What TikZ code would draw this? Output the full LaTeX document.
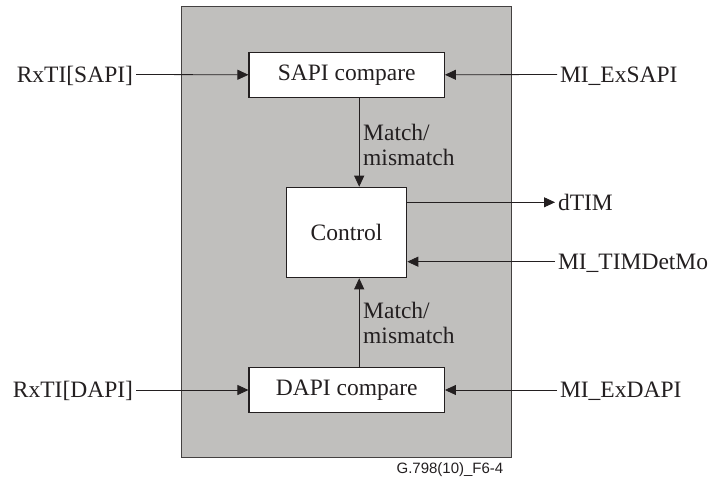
\documentclass[tikz,border=0pt]{standalone}
\usepackage{fontspec}
\setmainfont{Liberation Serif}
\newfontfamily\arialfont{Liberation Sans}
\usetikzlibrary{arrows.meta}
\definecolor{panelgray}{RGB}{192,191,189}
\definecolor{ink}{RGB}{35,31,32}
\begin{document}
\begin{tikzpicture}[x=1pt,y=-1pt,
  every node/.style={text=ink},
  blk/.style={draw=ink,line width=1.2pt,fill=white,inner sep=0pt,font=\fontsize{23.5}{26}\selectfont},
  lbl/.style={inner sep=0pt,outer sep=3pt,text height=15.5pt,text depth=0pt,font=\fontsize{23.5}{26}\selectfont},
  small/.style={inner sep=0pt,font=\fontsize{23.5}{27}\selectfont,align=left},
  conn/.style={draw=ink,line width=0.8pt},
  arr/.style={conn,-{Triangle[length=11pt,width=10pt]}}]
\useasboundingbox (0,0) rectangle (709,481);
\draw[fill=panelgray,draw=ink!85,line width=1.3pt] (181.7,6.7) rectangle (511.3,457.7);
\node[blk,minimum width=195.3pt,minimum height=45pt] (sapi) at (346.7,74.8) {SAPI compare};
\node[blk,minimum width=120.4pt,minimum height=90.4pt] (ctrl) at (346.5,232.5) {Control};
\node[blk,minimum width=195.3pt,minimum height=45.4pt] (dapi) at (346.7,390) {DAPI compare};
\node[lbl,anchor=east] (rxs) at (136,74.5) {RxTI[SAPI]};
\node[lbl,anchor=east] (rxd) at (136,390) {RxTI[DAPI]};
\node[lbl,anchor=west] (exs) at (557,74.5) {MI\_ExSAPI};
\node[lbl,anchor=west] (exd) at (557,390) {MI\_ExDAPI};
\node[lbl,anchor=west] (dtim) at (555,202.3) {dTIM};
\node[lbl,anchor=west] (tdm) at (555,261.7) {MI\_TIMDetMo};
\node[small,anchor=west] (m1) at (363,144.5) {Match/\\[-2pt]mismatch};
\node[small,anchor=west] (m2) at (363,323) {Match/\\[-2pt]mismatch};
\node[inner sep=0pt,font=\arialfont\fontsize{15}{18}\selectfont,anchor=east] (fig) at (503.5,470) {G.798(10)\_F6-4};
\draw[arr] (rxs.east) -- (sapi.west);
\draw[arr] (rxd.east) -- (dapi.west);
\draw[arr] (exs.west) -- (sapi.east);
\draw[arr] (exd.west) -- (dapi.east);
\draw[arr] (ctrl.east |- dtim.west) -- (dtim.west);
\draw[arr] (tdm.west) -- (ctrl.east |- tdm.west);
\draw[arr] ([xshift=12.5pt]sapi.south) -- ([xshift=12.5pt]sapi.south |- ctrl.north);
\draw[arr] ([xshift=12.5pt]dapi.north) -- ([xshift=12.5pt]dapi.north |- ctrl.south);
\end{tikzpicture}
\end{document}
